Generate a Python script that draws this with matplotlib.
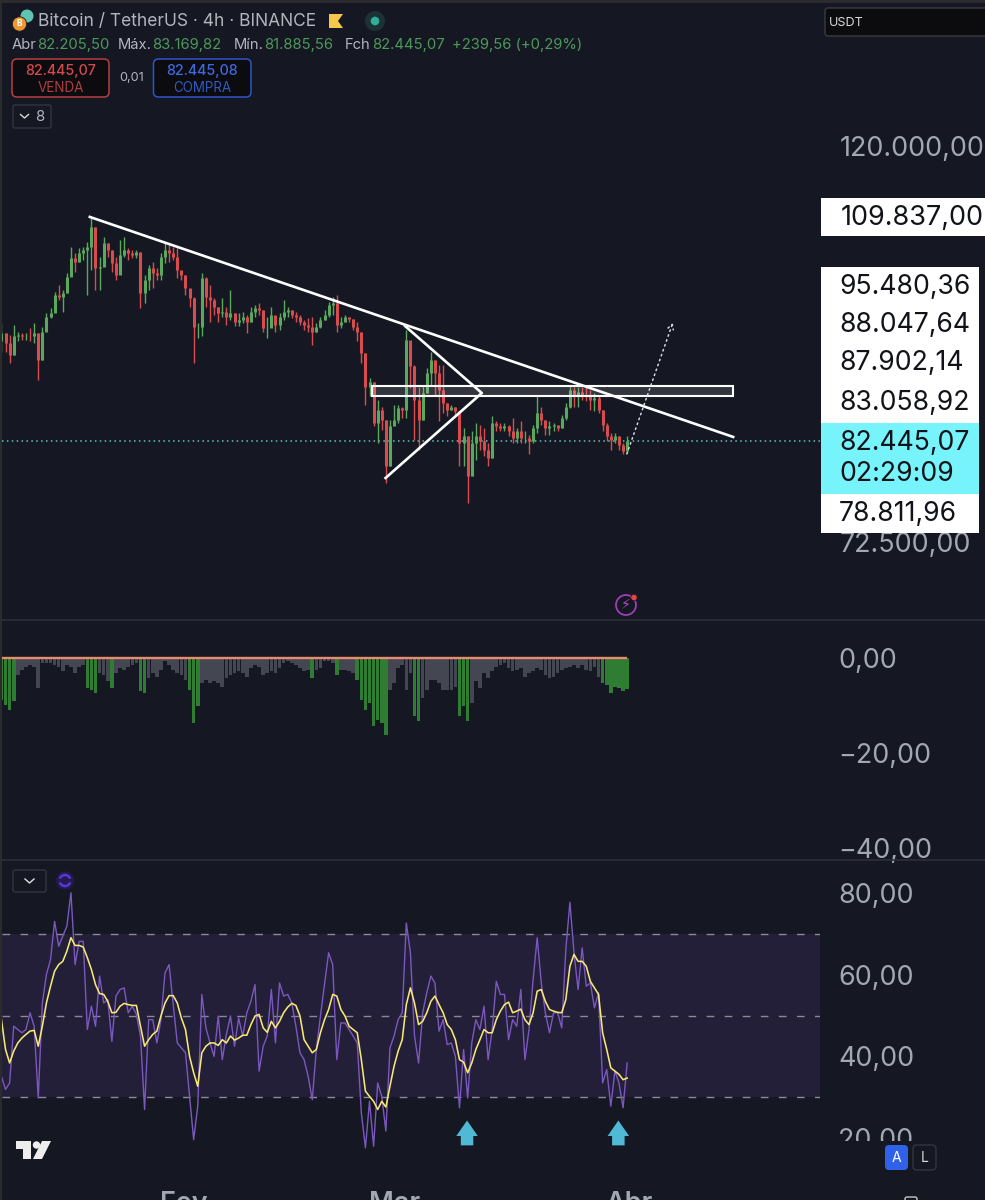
import numpy as np
import matplotlib
matplotlib.use("Agg")
import matplotlib.pyplot as plt
import matplotlib.dates as mdates
from matplotlib.patches import Rectangle, Circle, Polygon, FancyBboxPatch, Arc

plt.rcParams['font.family'] = ['Inter', 'DejaVu Sans']

# ---------- data (thousands of USDT) ----------
highs_k = [95.77,94.56,94.36,95.57,94.76,94.56,94.56,95.17,95.77,94.56,
 95.37,97.0,97.62,99.7,100.55,99.92,102.06,105.57,104.67,105.35,
 105.57,106.25,109.46,108.28,104.24,106.93,106.03,105.13,104.24,106.47,
 106.93,105.35,105.13,105.13,104.9,101.85,103.13,103.56,102.71,104.67,
 106.03,106.1,105.57,105.35,102.28,101.85,99.92,99.07,95.77,102.06,
 101.63,100.55,98.86,97.82,98.86,97.82,99.92,97.0,97.0,97.2,
 96.79,97.82,98.03,98.24,97.41,96.59,97.82,96.39,97.0,98.65,
 97.82,97.41,97.2,96.79,96.18,96.39,96.59,95.77,96.59,97.41,
 98.45,99.07,99.28,96.59,96.79,96.59,96.26,95.97,94.76,92.2,
 89.30,88.92,86.88,86.14,84.70,84.70,86.33,86.33,86.14,95.0,
 93.56,90.83,88.36,88.55,90.45,92.38,91.4,90.83,90.83,86.51,
 86.33,86.14,85.6,83.81,82.92,83.46,84.33,84.16,83.81,82.22,
 85.06,84.52,84.33,84.33,84.16,84.88,83.81,84.52,83.46,83.11,
 84.16,87.25,86.14,84.7,84.52,84.33,84.16,85.24,86.51,88.45,
 88.36,88.36,88.36,88.36,87.98,87.61,87.43,85.78,84.33,83.28,
 83.28,82.92,82.22,82.92]
lows_k = [92.38,92.38,91.03,92.0,93.57,93.77,93.77,93.57,93.37,89.1,
 91.4,95.17,96.39,97.2,98.65,97.2,99.49,102.49,102.28,103.56,
 103.8,99.28,102.49,99.92,99.92,103.35,104.24,102.28,101.2,102.28,
 104.24,103.8,104.03,104.03,97.62,98.24,99.92,100.12,101.2,101.2,
 103.35,103.56,103.8,101.42,101.2,99.28,97.82,91.03,93.96,94.17,
 97.82,95.97,96.79,95.97,96.59,95.57,96.18,95.45,95.45,95.77,
 94.56,95.97,96.59,96.79,94.76,93.96,95.37,94.76,94.96,96.18,
 96.59,96.39,95.97,95.57,94.96,94.76,93.17,94.76,95.17,96.18,
 96.59,96.79,94.76,95.17,95.97,95.97,94.96,93.57,91.03,86.3,
 87.25,83.98,82.22,83.63,78.15,79.82,84.16,84.34,84.88,84.88,
 88.17,82.57,81.53,84.7,87.61,88.55,87.25,84.52,85.42,85.06,
 85.78,85.06,79.82,79.82,76.18,78.81,80.5,81.53,80.84,79.82,
 80.67,83.46,83.46,83.46,82.92,82.22,82.22,82.22,82.22,81.05,
 82.22,83.28,84.16,83.11,83.11,83.46,83.46,83.81,84.7,85.96,
 86.14,86.14,86.88,86.7,85.78,85.6,85.42,83.46,82.39,81.53,
 82.22,81.53,81.12,81.19]
closes_k = [94.56,93.37,92.0,94.17,94.36,94.17,94.25,94.17,94.56,91.4,
 94.76,96.59,97.0,99.28,99.07,99.49,101.63,104.0,103.56,104.67,
 105.13,105.57,108.28,102.71,102.92,106.03,105.13,103.35,101.85,104.46,
 105.13,104.67,104.46,104.9,99.49,101.2,102.71,102.06,101.85,104.24,
 105.13,104.67,104.24,102.49,101.85,100.12,98.86,95.37,95.37,101.42,
 99.07,98.65,97.82,97.0,97.2,96.59,97.0,95.97,96.18,96.59,
 95.97,97.2,97.62,97.41,95.17,95.17,96.79,95.57,96.59,97.2,
 97.41,96.79,96.59,95.97,95.57,95.37,94.76,95.37,96.18,96.79,
 98.03,98.24,95.57,95.97,96.51,96.26,95.37,94.76,92.2,88.3,
 88.92,84.33,85.78,84.70,79.82,83.98,84.70,85.96,85.78,93.76,
 90.64,86.88,84.70,87.61,89.87,91.40,89.87,87.98,86.51,85.78,
 86.14,85.6,82.22,82.92,78.81,82.22,82.92,82.39,81.53,80.67,
 84.33,83.98,83.81,83.98,83.46,82.74,83.46,82.74,82.74,82.39,
 83.81,85.42,84.7,83.81,83.98,84.16,83.81,84.88,86.14,87.98,
 87.25,87.8,87.43,87.25,86.88,87.06,85.78,84.16,82.92,82.57,
 82.92,82.05,81.36,82.445]
first_open_k = 93.6

hist_vals = [-8.8,-9.8,-10.9,-9.1,-3.5,-2.5,-1.8,-1.4,-1.8,-6.3,
 -1.1,-1.1,-1.1,-1.4,-1.8,-2.8,-1.4,-1.8,-3.2,-1.8,
 -1.4,-6.3,-6.7,-7.4,-3.2,-3.5,-4.9,-6.3,-3.2,-2.1,
 -2.5,-1.8,-1.4,-1.1,-7.0,-7.4,-4.2,-3.2,-3.9,-2.5,
 -0.7,-1.4,-2.5,-3.2,-3.5,-4.6,-6.7,-13.7,-10.2,-5.3,
 -4.6,-5.3,-4.9,-5.3,-6.0,-4.2,-3.5,-3.2,-2.8,-3.2,
 -3.9,-2.1,-1.4,-1.8,-3.5,-3.2,-2.8,-3.2,-2.1,-1.1,
 -0.7,-1.1,-1.4,-2.1,-2.8,-2.5,-4.2,-2.5,-2.1,-0.7,
 -0.7,-1.1,-3.5,-2.5,-2.5,-2.8,-3.2,-4.6,-8.8,-10.9,
 -9.5,-14.4,-13.0,-13.7,-16.1,-6.7,-5.3,-2.1,-1.4,-6.7,
 -3.2,-12.3,-13.3,-8.4,-6.7,-4.6,-4.6,-5.3,-6.7,-6.7,
 -6.7,-6.0,-12.3,-10.2,-13.3,-9.5,-4.9,-6.3,-3.2,-4.2,
 -2.8,-1.8,-1.4,-1.1,-2.1,-2.8,-2.5,-2.1,-3.9,-3.2,
 -2.8,-2.1,-2.5,-3.5,-4.2,-3.9,-3.2,-2.5,-2.1,-1.8,
 -1.4,-2.1,-1.4,-2.5,-2.8,-1.8,-3.9,-5.3,-5.6,-7.4,
 -6.0,-6.3,-7.0,-6.5]
hist_green_idx = [0,1,2,3,21,22,23,27,34,35,46,47,48,76,82,87,88,89,90,91,92,93,94,
 101,102,112,113,114,147,148,149,150,151,152,153]

rsi_vals = [35.1,31.9,33.5,47.4,46.6,45.8,46.6,50.7,47.4,29.8,
 53.1,60.1,63.7,73.1,67.0,69.5,71.9,80.1,62.5,68.2,
 68.2,46.6,52.3,47.4,59.7,53.1,53.9,43.7,54.8,56.4,
 56.8,50.7,52.3,50.3,45.0,27.0,49.0,49.0,43.3,49.0,
 60.5,62.5,52.7,43.3,42.1,40.9,30.2,19.6,27.8,55.2,
 47.0,43.3,40.0,49.9,39.2,45.4,49.9,42.5,49.4,45.0,
 50.7,53.5,57.6,36.4,42.5,45.0,56.4,43.3,58.0,54.8,
 55.2,53.1,47.4,40.9,39.2,35.1,29.4,41.7,49.9,57.6,
 65.4,62.5,39.2,48.2,48.2,46.6,45.0,43.3,26.2,17.6,
 29.0,18.0,33.5,30.2,21.7,42.1,45.0,49.0,50.7,72.7,
 65.4,45.0,38.4,50.7,55.6,59.7,58.0,46.2,49.0,42.9,
 43.3,40.0,27.4,41.7,29.8,43.3,49.0,46.6,52.3,39.2,
 46.6,58.4,55.2,55.2,44.1,49.0,47.4,56.4,39.2,46.6,
 58.8,69.1,58.0,50.7,45.8,50.7,50.7,47.0,66.2,77.8,
 65.4,56.4,66.6,57.2,58.0,51.9,55.6,33.5,36.8,27.8,
 36.4,33.5,27.4,38.4]
rsi_ma_vals = [49.0,41.7,38.4,41.3,43.3,44.5,45.4,46.2,46.4,42.5,
 47.4,53.1,57.2,60.9,62.5,63.3,65.8,69.1,67.2,67.2,
 66.8,64.2,61.3,57.6,55.4,55.2,53.5,50.7,50.8,52.3,
 53.0,52.7,52.5,52.5,47.4,42.5,44.1,45.4,46.2,49.9,
 53.1,54.9,54.9,53.1,49.4,46.6,40.0,36.0,32.7,40.9,
 42.5,43.3,43.3,42.7,44.1,43.3,45.0,44.0,44.5,45.2,
 45.2,47.8,49.9,50.3,47.0,45.9,48.6,47.0,48.6,50.7,
 52.1,53.0,52.5,49.9,44.1,42.5,40.9,41.7,45.8,49.0,
 51.5,55.2,54.8,51.5,49.9,47.4,46.6,45.8,39.2,31.5,
 30.2,29.0,27.0,29.0,27.6,32.7,37.6,41.3,44.1,52.7,
 56.8,53.1,47.8,48.6,50.7,53.5,54.8,52.7,50.7,47.8,
 46.6,44.1,39.2,38.6,36.0,38.4,41.7,44.1,46.6,45.8,
 45.8,49.0,51.1,52.7,53.3,50.7,51.1,51.6,49.0,47.8,
 50.7,56.0,56.4,53.5,51.5,51.1,50.8,50.7,53.9,62.1,
 65.0,63.3,63.3,62.1,58.4,56.8,55.2,45.8,41.7,37.2,
 36.4,35.6,34.3,34.7]

last_price = 82445.07
trend_dates = ['2025-01-19T14', '2025-04-14T19']
trend_prices = [109640, 82870]
tri_dates = ['2025-02-27T18', '2025-03-12T12', '2025-03-02T08']
tri_prices = [78650, 87630, 95430]
zone_dates = ['2025-02-26T00', '2025-04-14T19']
zone_prices = [87310, 88430]
proj_dates = ['2025-03-31T17', '2025-04-06T19']
proj_prices = [81100, 95810]

price_ticks = [120000, 72500]
price_tick_labels = ['120.000,00', '72.500,00']
hist_ticks = [0, -20, -40]
hist_tick_labels = ['0,00', '\u221220,00', '\u221240,00']
rsi_ticks = [80, 60, 40, 20]
rsi_tick_labels = ['80,00', '60,00', '40,00', '20,00']
rsi_levels = [70, 50, 30]
arrow_dates = ['2025-03-10T13', '2025-03-30T14']
month_ticks = ['2025-02-01', '2025-03-01', '2025-04-01']
month_labels = ['Fev', 'Mar', 'Abr']

BG = '#151823'
W, H = 985, 1200
fig = plt.figure(figsize=(W/100, H/100), dpi=100, facecolor=BG)

def pane(y0, y1, pad=13):
    ax = fig.add_axes([2/W, 1-y1/H, 818/W, (y1-y0)/H])
    ax.set_facecolor('none')
    for s in ax.spines.values():
        s.set_visible(False)
    ax.yaxis.tick_right()
    ax.tick_params(axis='y', length=0, pad=pad, labelsize=19.4, labelcolor='#a3a7b1')
    ax.tick_params(axis='x', length=0, bottom=False, labelbottom=False)
    base = mdates.date2num(np.datetime64('2025-03-01'))
    ax.set_xlim(base-52.05, base+56.29)
    return ax

N = len(closes_k)
dates = np.datetime64('2025-01-07T21') + np.arange(N)*np.timedelta64(13, 'h')
dn = mdates.date2num(dates)
def D(lst):
    return mdates.date2num(np.array(lst, dtype='datetime64[h]'))

# ---------- price pane ----------
ax = pane(8, 620, pad=14.5)
ax.set_yscale('log')
ax.set_ylim(65650, 143030)
ax.yaxis.set_minor_locator(matplotlib.ticker.NullLocator())
ax.set_yticks(price_ticks)
ax.set_yticklabels(price_tick_labels)
c = np.array(closes_k)*1000
o = np.r_[first_open_k*1000, c[:-1]]
hi = np.array(highs_k)*1000
lo = np.array(lows_k)*1000
cols = np.where(c >= o, '#5aa85c', '#d84c4e')
ax.vlines(dn, lo, hi, colors=cols, lw=1.0, zorder=2)
ax.vlines(dn, np.minimum(o, c), np.maximum(o, c), colors=cols, lw=2.2, zorder=3)
ax.axhline(last_price, color='#58c6c4', lw=1.1, ls=(0, (1, 2.2)), zorder=1)
ax.plot(D(trend_dates), trend_prices, color='white', lw=1.9, zorder=5)
td = D(tri_dates)
ax.plot(td, tri_prices, color='white', lw=1.9, zorder=5)
zd = D(zone_dates)
ax.add_patch(Rectangle((zd[0], zone_prices[0]), zd[1]-zd[0], zone_prices[1]-zone_prices[0],
                       fc=(1, 1, 1, 0.13), ec='white', lw=1.5, zorder=4))
pd_ = D(proj_dates)
ax.annotate('', xy=(pd_[1], proj_prices[1]), xytext=(pd_[0], proj_prices[0]),
            arrowprops=dict(arrowstyle='->,head_length=0.35,head_width=0.2', color='#d8d8e0',
                            lw=1.1, ls=(0, (1, 2.4)), shrinkA=0, shrinkB=0), zorder=6)

# ---------- histogram pane ----------
ax2 = pane(620, 860)
ax2.set_ylim(-42.5, 8.0)
ax2.set_yticks(hist_ticks)
ax2.set_yticklabels(hist_tick_labels)
hc = ['#2f7d33' if i in hist_green_idx else '#444751' for i in range(N)]
ax2.bar(dn, hist_vals, width=13/24*0.88, color=hc, lw=0, zorder=2)
ax2.plot(dn, np.zeros(N), color='#ea8a6e', lw=1.7, zorder=3, solid_capstyle='butt')

# ---------- RSI pane ----------
ax3 = pane(860, 1175)
ax3.set_ylim(10.94, 88.14)
ax3.set_yticks(rsi_ticks)
ax3.set_yticklabels(rsi_tick_labels)
ax3.axhspan(rsi_levels[2], rsi_levels[0], color='#231f38', lw=0, zorder=0)
for lv in rsi_levels:
    ax3.axhline(lv, color='#8a8a96', lw=1.0, ls=(0, (5.5, 7.5)), zorder=1)
ax3.plot(dn, rsi_vals, color='#7a58bf', lw=1.0, zorder=3)
ax3.plot(dn, rsi_ma_vals, color='#f6e872', lw=1.15, zorder=4)
for ad in D(arrow_dates):
    ax3.annotate('', xy=(ad, 24.3), xytext=(ad, 18.2),
                 arrowprops=dict(arrowstyle='simple,head_length=0.62,head_width=0.86,tail_width=0.5',
                                 color='#4fb9d6', lw=0, shrinkA=0, shrinkB=0, mutation_scale=18))
ax3.set_xticks(mdates.date2num(np.array(month_ticks, dtype='datetime64[D]')))
ax3.set_xticklabels(month_labels)
ax3.tick_params(axis='x', labelbottom=True, labelsize=19.4, labelcolor='#a3a7b1', pad=11.5)
for t in ax3.get_xticklabels():
    t.set_fontweight('semibold')

# ---------- overlay in pixels: interface chrome ----------
ov = fig.add_axes([0, 0, 1, 1], zorder=10)
ov.set_xlim(0, W); ov.set_ylim(H, 0); ov.axis('off'); ov.patch.set_alpha(0)

def T(x, y, s, px, color, ha='left', va='center', **kw):
    return ov.text(x, y, s, fontsize=px*0.72, color=color, ha=ha, va=va, **kw)
def box(x0, y0, x1, y1, fc, ec='none', lw=1.0, r=3):
    ov.add_patch(FancyBboxPatch((x0+r, y0+r), x1-x0-2*r, y1-y0-2*r,
                 boxstyle=f'round,pad={r},rounding_size={r}', fc=fc, ec=ec, lw=lw))

# frame strips and pane separators
ov.add_patch(Rectangle((0, 0), W, 3, fc='#2b2b2d', ec='none'))
ov.add_patch(Rectangle((0, 0), 2, H, fc='#2b2b2d', ec='none'))
for y in (620, 860):
    ov.plot([2, W], [y, y], color='#2c303b', lw=1.2)
ov.add_patch(Rectangle((830, 1140.5), 155, 40, fc=BG, ec='none'))

# header
ov.add_patch(Circle((27, 16), 6.5, fc='#5fc3b4', ec='none'))
ov.add_patch(Circle((19.5, 24), 7.2, fc='#f0962f', ec=BG, lw=0.6))
T(19.5, 24, 'B', 8.5, 'white', ha='center', fontweight='bold')
T(38, 21, 'Bitcoin / TetherUS \u00b7 4h \u00b7 BINANCE', 17.4, '#b2b5be')
ov.add_patch(Polygon([(329, 14), (343, 14), (338, 21), (343, 28), (329, 28)], fc='#f5c84c', ec='none'))
ov.add_patch(Circle((375, 21), 10, fc='#1d3236', ec='none'))
ov.add_patch(Circle((375, 21), 4.3, fc='#2faf98', ec='none'))

GR = '#4c9a5a'; LG = '#b2b5be'
for x, s, col in [(12, 'Abr', LG), (37.5, '82.205,50', GR), (118, 'M\u00e1x.', LG), (152.5, '83.169,82', GR),
                  (234, 'M\u00edn.', LG), (264, '81.885,56', GR), (345, 'Fch', LG), (372, '82.445,07', GR),
                  (452, '+239,56 (+0,29%)', GR)]:
    T(x, 45, s, 14.8, col)

box(12, 59, 109, 97, '#0b0b10', '#b5403f', 1.1, r=5)
T(60.5, 71.5, '82.445,07', 14.3, '#d34a4c', ha='center', fontweight='medium')
T(60.5, 88, 'VENDA', 13.5, '#ae3f40', ha='center')
T(131.5, 78, '0,01', 12.6, '#b2b5be', ha='center')
box(153.5, 59, 251, 97, '#0b0b10', '#2f55c8', 1.1, r=5)
T(202, 71.5, '82.445,08', 14.3, '#3f68dc', ha='center', fontweight='medium')
T(202, 88, 'COMPRA', 13.4, '#3159bd', ha='center')
box(13, 105, 51, 128, BG, '#33363f', 1.0, r=2)
ov.plot([20.5, 24.5, 28.5], [114.5, 118, 114.5], color='#d8d9de', lw=1.0)
T(40, 117, '8', 15, '#b2b5be', ha='center')

# currency box
box(825, 8, 1000, 36, '#0c0c0e', '#3a3c44', 1.0, r=3)
T(829, 22.5, 'USDT', 12.6, '#d8d9dd')

# right scale value boxes
ov.add_patch(Rectangle((821, 198), 164, 38, fc='white', ec='none'))
ov.add_patch(Rectangle((821, 267), 158, 156, fc='white', ec='none'))
ov.add_patch(Rectangle((821, 423), 158, 71, fc='#76f3fb', ec='none'))
ov.add_patch(Rectangle((821, 494), 158, 39, fc='white', ec='none'))
T(840.5, 218, '109.837,00', 27, '#111318')
for y, s in [(287, '95.480,36'), (325, '88.047,64'), (363, '87.902,14'),
             (403, '83.058,92'), (443, '82.445,07'), (474, '02:29:09'), (514, '78.811,96')]:
    T(839, y, s, 26.6, '#111318')

# alert icon
ov.add_patch(Circle((626, 605), 10, fc='none', ec='#9c3fb8', lw=1.3))
T(626, 605, '\u26a1', 14, '#b04ac8', ha='center', family=['DejaVu Sans'])
ov.add_patch(Circle((634, 597.5), 3.2, fc='#e5433f', ec=BG, lw=0.5))

# RSI pane controls
box(13, 870, 46, 892, BG, '#33363f', 1.0, r=2)
ov.plot([25, 29.5, 34], [879, 883, 879], color='#e0e0e4', lw=1.0)
ov.add_patch(Circle((65, 880.5), 9, fc='#241a52', ec='none'))
ov.add_patch(Arc((65, 880.5), 11, 11, theta1=20, theta2=160, ec='#5a35d8', lw=1.8))
ov.add_patch(Arc((65, 880.5), 11, 11, theta1=200, theta2=340, ec='#5a35d8', lw=1.8))

# TradingView mark
ov.add_patch(Polygon([(16, 1141), (31, 1141), (31, 1159), (23, 1159), (23, 1149), (16, 1149)], fc='#eeeeee', ec='none'))
ov.add_patch(Circle((36.5, 1145), 3.7, fc='#eeeeee', ec='none'))
ov.add_patch(Polygon([(42, 1141), (51, 1141), (42, 1159), (33, 1159)], fc='#eeeeee', ec='none'))

# A / L buttons
box(885, 1145, 908, 1170, '#2f62e8', 'none', r=4)
T(896.5, 1157.5, 'A', 14, 'white', ha='center')
box(913, 1145, 936, 1170, BG, '#33363f', 1.0, r=4)
T(924.5, 1157.5, 'L', 14, '#d8d9dd', ha='center')
box(905, 1197, 917, 1206, 'none', '#c8c8cc', 1.0, r=2)

fig.savefig('out.png', dpi=100, facecolor=BG)
